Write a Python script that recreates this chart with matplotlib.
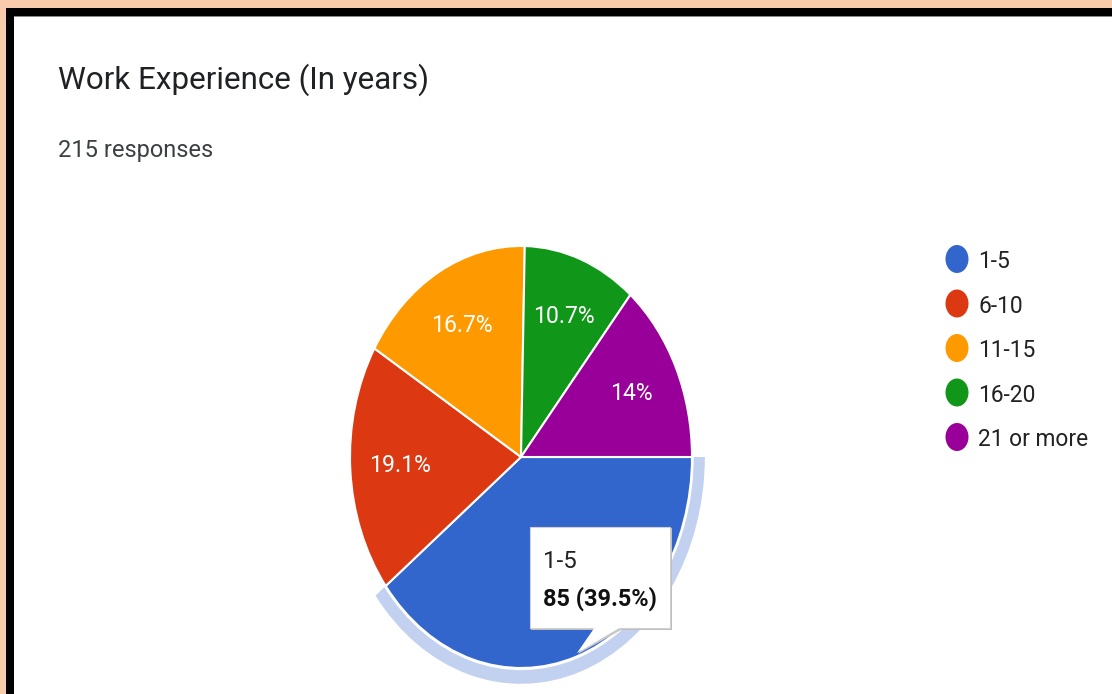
import matplotlib
matplotlib.use('Agg')
import matplotlib.pyplot as plt
from matplotlib.patches import Rectangle, Ellipse, Wedge, Polygon
import numpy as np

# ---- data ----
categories = ['1-5', '6-10', '11-15', '16-20', '21 or more']
counts = [85, 41, 36, 23, 30]
pct_labels = ['39.5%', '19.1%', '16.7%', '10.7%', '14%']
colors = ['#3366cc', '#dc3912', '#ff9900', '#109618', '#990099']
title = 'Work Experience (In years)'
subtitle = '215 responses'
highlight = 0  # hovered slice (its in-slice label is hidden under the tooltip)

W, H = 1112, 694
FONT = ['Roboto', 'DejaVu Sans']

def pt(px):
    return px * 0.72

fig = plt.figure(figsize=(W / 100, H / 100), dpi=100)
fig.patch.set_facecolor('white')

# overlay axes in pixel coordinates
ax0 = fig.add_axes([0, 0, 1, 1])
ax0.set_xlim(0, W)
ax0.set_ylim(H, 0)
ax0.axis('off')
ax0.patch.set_alpha(0)
ax0.set_zorder(3)

# ---- pie axes (elliptical pie) ----
cx, cy, rx, ry = 521, 457, 171, 211
lim = 1.3
pw, ph = 2 * lim * rx, 2 * lim * ry
axp = fig.add_axes([(cx - pw / 2) / W, (H - cy - ph / 2) / H, pw / W, ph / H])
wedges, _ = axp.pie(counts, colors=colors, startangle=0, counterclock=False,
                    radius=1, wedgeprops=dict(edgecolor='white', linewidth=1.5))
axp.set_aspect('auto')
axp.set_xlim(-lim, lim)
axp.set_ylim(-lim, lim)
axp.axis('off')
axp.set_zorder(1)

# highlight ring around hovered slice
hw = wedges[highlight]
axp.add_patch(Wedge((0, 0), 1.075, hw.theta1, hw.theta2, width=0.065,
                    facecolor='#c2d1f0', edgecolor='none', zorder=0))

for i, (w, lab) in enumerate(zip(wedges, pct_labels)):
    if i == highlight:
        continue
    mid = np.deg2rad((w.theta1 + w.theta2) / 2)
    axp.text(0.71 * np.cos(mid), 0.71 * np.sin(mid), lab, color='white',
             ha='center', va='center', fontsize=pt(23), family=FONT, zorder=5)

# ---- borders ----
ax0.add_patch(Rectangle((0, 0), W, 8, facecolor='#f8cbad', edgecolor='none', zorder=10))
ax0.add_patch(Rectangle((0, 0), 6, H, facecolor='#f8cbad', edgecolor='none', zorder=10))
ax0.add_patch(Rectangle((6, 8), W, 8, facecolor='black', edgecolor='none', zorder=11))
ax0.add_patch(Rectangle((6, 8), 8, H, facecolor='black', edgecolor='none', zorder=11))
ax0.add_patch(Rectangle((14, 16), W, 1, facecolor='#8a8a8a', edgecolor='none', zorder=11))

# ---- title ----
ax0.text(58, 89, title, fontsize=pt(31.4), color='#202124', family=FONT,
         ha='left', va='baseline')
ax0.text(58, 157, subtitle, fontsize=pt(23.6), color='#3c4043', family=FONT,
         ha='left', va='baseline')

# ---- legend ----
leg_y0, leg_dy = 259, 44.5
for i, (c, lab) in enumerate(zip(colors, categories)):
    y = leg_y0 + i * leg_dy
    ax0.add_patch(Ellipse((957, y), 23, 28, facecolor=c, edgecolor='none'))
    ax0.text(978, y + 9, lab, fontsize=pt(22.7), color='#222222', family=FONT,
             ha='left', va='baseline')

# ---- tooltip ----
bx0, by0, bx1, by1 = 530, 527, 670, 628
ax0.add_patch(Rectangle((bx0 + 1, by0 + 1), bx1 - bx0 + 1, by1 - by0 + 1,
                        facecolor='#bdbdbd', edgecolor='none', zorder=20))
ax0.add_patch(Rectangle((bx0, by0), bx1 - bx0, by1 - by0,
                        facecolor='white', edgecolor='#d0d0d0', linewidth=0.8, zorder=21))
ax0.add_patch(Polygon([(623, by1 + 1), (578, 654), (596, by1 - 0.5)], closed=True,
                      facecolor='#c8c8c8', edgecolor='none', zorder=20))
ax0.add_patch(Polygon([(621, by1 - 1), (577, 653), (595, by1 - 1)], closed=True,
                      facecolor='white', edgecolor='none', zorder=22))
ax0.text(543, 568, categories[highlight], fontsize=pt(24), color='#222222',
         family=FONT, ha='left', va='baseline', zorder=23)
ax0.text(543, 606, f'{counts[highlight]} ({pct_labels[highlight]})', fontsize=pt(23.5),
         color='#111111', family=FONT, fontweight='bold', ha='left', va='baseline', zorder=23)

fig.savefig('out.png', dpi=100, facecolor='white')
